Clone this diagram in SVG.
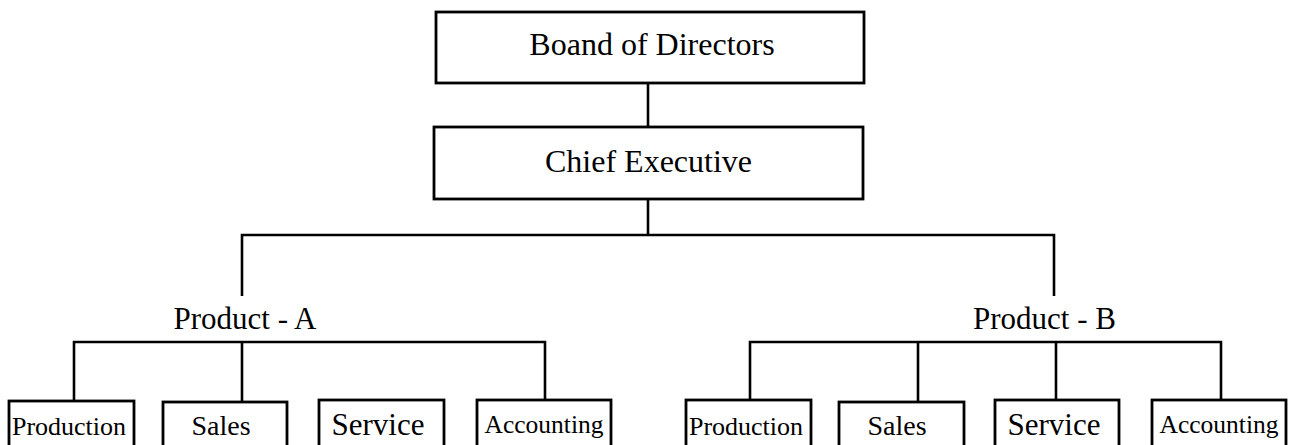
<svg xmlns="http://www.w3.org/2000/svg" width="1289" height="445" viewBox="0 0 1289 445">
<style>
.box{fill:#fff;stroke:#000;stroke-width:2.8}
.ln{fill:none;stroke:#000;stroke-width:2.6}
text{font-family:"Liberation Serif","Times New Roman",serif;fill:#000}
.big{font-size:32px;text-anchor:middle}
.prod{font-size:31px;text-anchor:middle}
.sm{font-size:26px;text-anchor:middle}
</style>
<rect width="1289" height="445" fill="#fff"/>
<g id="connectors">
<path class="ln" d="M648 83V127"/>
<path class="ln" d="M648 199V235"/>
<path class="ln" d="M242 296V235H1054V296"/>
<path class="ln" d="M74 401V342H545V400M242 342V404"/>
<path class="ln" d="M750 401V342H1221V400M918 342V404M1056 342V401"/>
</g>
<g id="board"><rect class="box" x="436" y="12" width="428" height="71"/><text class="big" x="652" y="55">Boand of Directors</text></g>
<g id="chief"><rect class="box" x="434" y="127" width="429" height="72"/><text class="big" x="648.5" y="172">Chief Executive</text></g>
<g id="productA"><text class="prod" x="245" y="329">Product - A</text></g>
<g id="productB"><text class="prod" x="1044.5" y="329">Product - B</text></g>
<g id="a-production"><rect class="box" x="9" y="401" width="125" height="60"/><text class="sm" x="69" y="435">Production</text></g>
<g id="a-sales"><rect class="box" x="163" y="402" width="124" height="60"/><text class="sm" x="221" y="435" style="font-size:28px">Sales</text></g>
<g id="a-service"><rect class="box" x="319" y="400" width="125" height="60"/><text class="sm" x="378" y="435" style="font-size:31px">Service</text></g>
<g id="a-accounting"><rect class="box" x="477" y="400" width="134" height="60"/><text class="sm" x="544" y="433" style="font-size:25.5px">Accounting</text></g>
<g id="b-production"><rect class="box" x="686" y="400" width="125" height="60"/><text class="sm" x="746" y="435">Production</text></g>
<g id="b-sales"><rect class="box" x="839" y="402" width="125" height="60"/><text class="sm" x="897" y="435" style="font-size:28px">Sales</text></g>
<g id="b-service"><rect class="box" x="995" y="400" width="124" height="60"/><text class="sm" x="1054" y="435" style="font-size:31px">Service</text></g>
<g id="b-accounting"><rect class="box" x="1152" y="400" width="134" height="60"/><text class="sm" x="1219" y="433" style="font-size:25.5px">Accounting</text></g>
</svg>
